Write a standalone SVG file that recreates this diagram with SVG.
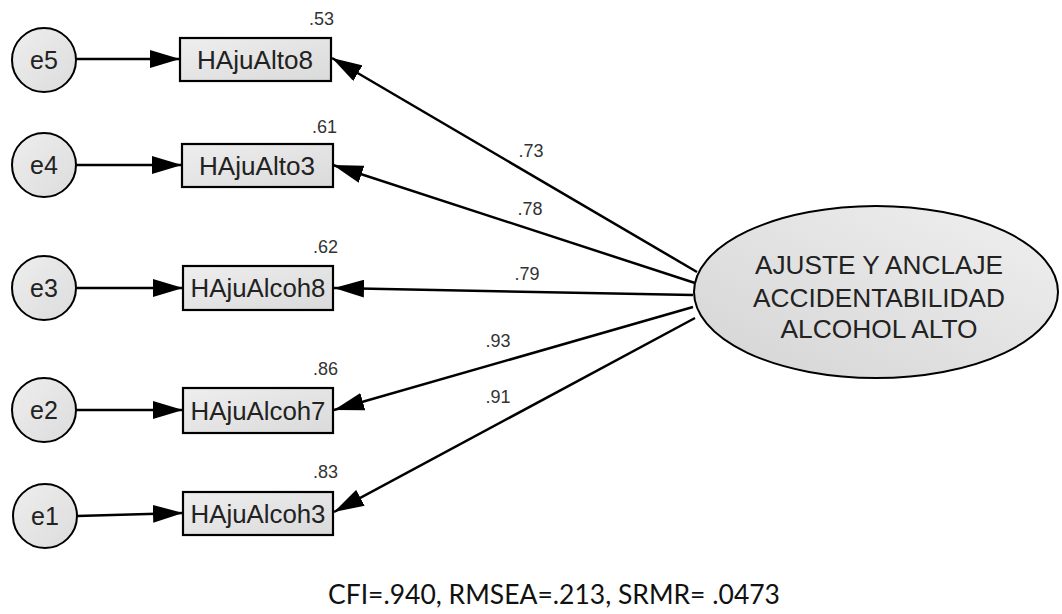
<svg xmlns="http://www.w3.org/2000/svg" width="1062" height="614" viewBox="0 0 1062 614">
  <style>
    .err { fill: url(#gCircle); stroke: #000; stroke-width: 2; }
    .obs { fill: url(#gBox); stroke: #000; stroke-width: 2.2; }
    .lat { fill: url(#gEll); stroke: #000; stroke-width: 2; }
    .lbl { font-family: "Liberation Sans", Arial, sans-serif; font-size: 25px; fill: #222; text-anchor: middle; }
    .ltx { font-family: "Liberation Sans", Arial, sans-serif; font-size: 26px; fill: #222; text-anchor: middle; }
    .num { font-family: "Liberation Sans", Arial, sans-serif; font-size: 18px; fill: #333; text-anchor: middle; }
    .r2 { font-family: "Liberation Sans", Arial, sans-serif; font-size: 18px; fill: #333; text-anchor: end; }
    .fit { font-family: Lato, "Open Sans", sans-serif; font-size: 26px; fill: #111; text-anchor: middle; }
    .path { stroke: #000; stroke-width: 2.5; fill: none; marker-end: url(#arrow); }
  </style>
  <defs>
    <linearGradient id="gBox" x1="0" y1="0" x2="1" y2="1">
      <stop offset="0" stop-color="#eeeeee"/>
      <stop offset="1" stop-color="#dadada"/>
    </linearGradient>
    <linearGradient id="gCircle" x1="0" y1="0" x2="1" y2="1">
      <stop offset="0" stop-color="#eeeeee"/>
      <stop offset="1" stop-color="#dcdcdc"/>
    </linearGradient>
    <linearGradient id="gEll" x1="1" y1="0" x2="0" y2="1">
      <stop offset="0" stop-color="#f0f0f0"/>
      <stop offset="1" stop-color="#d4d4d4"/>
    </linearGradient>
    <marker id="arrow" viewBox="0 0 30 18" refX="30" refY="9" markerWidth="30" markerHeight="18" markerUnits="userSpaceOnUse" orient="auto">
      <path d="M0,0 L30,9 L0,18 z" fill="#000"/>
    </marker>
  </defs>

  <!-- paths: error terms to indicators, factor to indicators -->
  <g id="connectors">
    <line class="path" x1="76" y1="59" x2="180" y2="59"/>
    <line class="path" x1="76" y1="165" x2="182" y2="165"/>
    <line class="path" x1="76" y1="288" x2="183" y2="288"/>
    <line class="path" x1="76" y1="410" x2="183" y2="410"/>
    <line class="path" x1="77" y1="516" x2="183" y2="513"/>

    <line class="path" x1="697" y1="272" x2="332" y2="58"/>
    <line class="path" x1="695" y1="283" x2="333" y2="165"/>
    <line class="path" x1="693" y1="295" x2="334" y2="288"/>
    <line class="path" x1="693" y1="307" x2="334" y2="410"/>
    <line class="path" x1="695" y1="318" x2="334" y2="512"/>

    <text class="num" x="531" y="157">.73</text>
    <text class="num" x="530" y="215">.78</text>
    <text class="num" x="527" y="280">.79</text>
    <text class="num" x="498" y="347">.93</text>
    <text class="num" x="498" y="403">.91</text>
  </g>

  <!-- error terms -->
  <g id="e5"><circle class="err" cx="44" cy="60" r="32"/><text class="lbl" x="44" y="69">e5</text></g>
  <g id="e4"><circle class="err" cx="44" cy="165" r="32"/><text class="lbl" x="44" y="174">e4</text></g>
  <g id="e3"><circle class="err" cx="44" cy="288" r="32"/><text class="lbl" x="44" y="297">e3</text></g>
  <g id="e2"><circle class="err" cx="44" cy="410" r="32"/><text class="lbl" x="44" y="419">e2</text></g>
  <g id="e1"><circle class="err" cx="45" cy="516" r="32"/><text class="lbl" x="45" y="525">e1</text></g>

  <!-- observed indicators -->
  <g id="HAjuAlto8">
    <rect class="obs" x="180" y="38" width="151" height="43"/>
    <text class="lbl" x="255" y="69" textLength="116" lengthAdjust="spacingAndGlyphs">HAjuAlto8</text>
    <text class="r2" x="334" y="25">.53</text>
  </g>
  <g id="HAjuAlto3">
    <rect class="obs" x="182" y="144" width="151" height="43"/>
    <text class="lbl" x="257" y="175" textLength="116" lengthAdjust="spacingAndGlyphs">HAjuAlto3</text>
    <text class="r2" x="337" y="133">.61</text>
  </g>
  <g id="HAjuAlcoh8">
    <rect class="obs" x="183" y="266" width="150" height="44"/>
    <text class="lbl" x="258" y="297" textLength="135" lengthAdjust="spacingAndGlyphs">HAjuAlcoh8</text>
    <text class="r2" x="338" y="253">.62</text>
  </g>
  <g id="HAjuAlcoh7">
    <rect class="obs" x="183" y="388" width="150" height="45"/>
    <text class="lbl" x="258" y="420" textLength="135" lengthAdjust="spacingAndGlyphs">HAjuAlcoh7</text>
    <text class="r2" x="338" y="375">.86</text>
  </g>
  <g id="HAjuAlcoh3">
    <rect class="obs" x="183" y="492" width="150" height="43"/>
    <text class="lbl" x="258" y="523" textLength="135" lengthAdjust="spacingAndGlyphs">HAjuAlcoh3</text>
    <text class="r2" x="338" y="478">.83</text>
  </g>

  <!-- latent factor -->
  <g id="factor">
    <ellipse class="lat" cx="876" cy="292" rx="182" ry="86"/>
    <text class="ltx" x="879" y="274" textLength="248" lengthAdjust="spacingAndGlyphs">AJUSTE Y ANCLAJE</text>
    <text class="ltx" x="879" y="307" textLength="252" lengthAdjust="spacingAndGlyphs">ACCIDENTABILIDAD</text>
    <text class="ltx" x="879" y="338" textLength="197" lengthAdjust="spacingAndGlyphs">ALCOHOL ALTO</text>
  </g>

  <text class="fit" x="554" y="604" textLength="452" lengthAdjust="spacingAndGlyphs">CFI=.940, RMSEA=.213, SRMR= .0473</text>
</svg>
